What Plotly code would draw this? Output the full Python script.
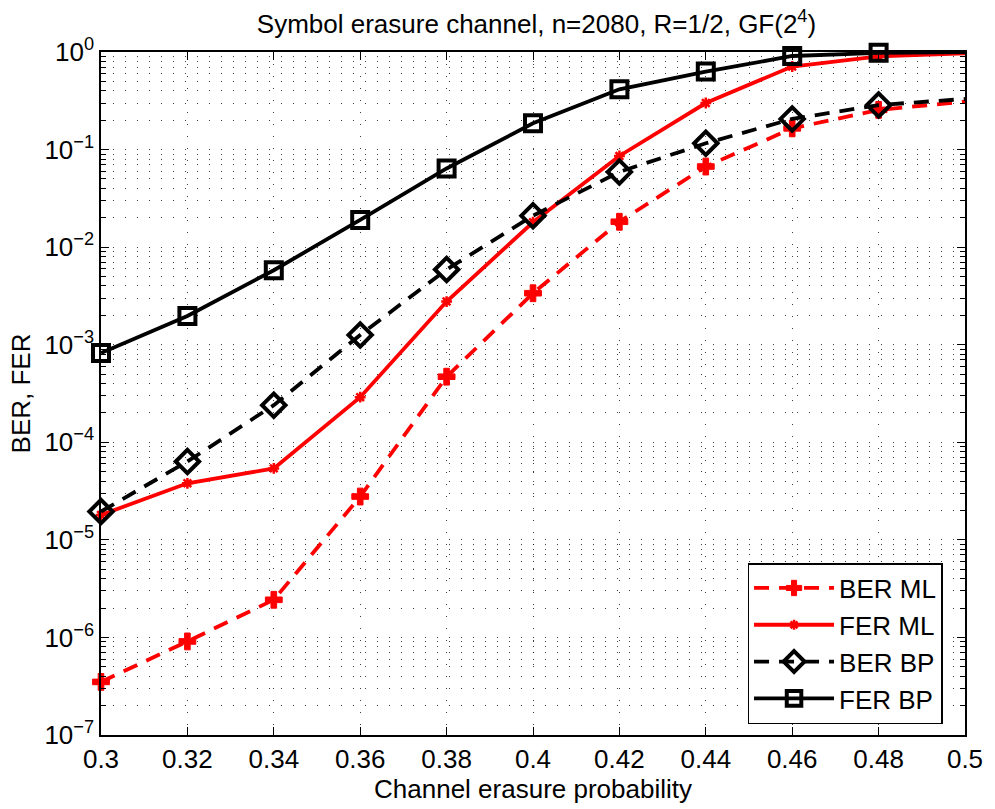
import plotly.graph_objects as go

x = [0.30, 0.32, 0.34, 0.36, 0.38, 0.40, 0.42, 0.44, 0.46, 0.48, 0.50]
ber_ml = [3.5e-7, 9.1e-7, 2.43e-6, 2.78e-5, 4.7e-4, 3.37e-3, 0.0182, 0.067, 0.165, 0.255, 0.31]
fer_ml = [1.8e-5, 3.8e-5, 5.4e-5, 2.9e-4, 2.77e-3, 0.018, 0.086, 0.30, 0.71, 0.90, 0.97]
ber_bp = [1.95e-5, 6.35e-5, 2.4e-4, 1.26e-3, 5.9e-3, 0.021, 0.059, 0.116, 0.206, 0.286, 0.33]
fer_bp = [8.2e-4, 1.97e-3, 5.8e-3, 0.019, 0.064, 0.186, 0.415, 0.63, 0.91, 0.98, 1.0]

x_ticks = [0.30, 0.32, 0.34, 0.36, 0.38, 0.40, 0.42, 0.44, 0.46, 0.48, 0.50]
x_ticktext = ["0.3", "0.32", "0.34", "0.36", "0.38", "0.4", "0.42", "0.44", "0.46", "0.48", "0.5"]
y_exps = [0, -1, -2, -3, -4, -5, -6, -7]

FONT = "Liberation Sans, Arial, Helvetica, sans-serif"
FS = 26
RED = "rgb(255,0,0)"
BLK = "rgb(0,0,0)"
LW = 3.8

def sizes(s):
    # no marker on the final point (edge of the axis)
    return [s] * (len(x) - 1) + [0]

fig = go.Figure()
fig.add_trace(go.Scatter(
    x=x, y=ber_ml, name="BER ML", mode="lines+markers",
    line=dict(color=RED, width=LW, dash="15px,10px"),
    marker=dict(symbol="cross", size=sizes(14), color=RED, opacity=1,
                line=dict(color=RED, width=1)),
    cliponaxis=False))
fig.add_trace(go.Scatter(
    x=x, y=fer_ml, name="FER ML", mode="lines+markers",
    line=dict(color=RED, width=LW),
    marker=dict(symbol="asterisk-open", size=sizes(9), color=RED, opacity=1,
                line=dict(color=RED, width=2.5)),
    cliponaxis=False))
fig.add_trace(go.Scatter(
    x=x, y=ber_bp, name="BER BP", mode="lines+markers",
    line=dict(color=BLK, width=LW, dash="15px,10px"),
    marker=dict(symbol="diamond-open", size=sizes(18), color=BLK, opacity=1,
                line=dict(color=BLK, width=4)),
    cliponaxis=False))
fig.add_trace(go.Scatter(
    x=x, y=fer_bp, name="FER BP", mode="lines+markers",
    line=dict(color=BLK, width=LW),
    marker=dict(symbol="square-open", size=sizes(16), color=BLK, opacity=1,
                line=dict(color=BLK, width=4)),
    cliponaxis=False))

minor_vals = [m * 10.0 ** k for k in range(-7, 0) for m in range(2, 10)]

fig.update_layout(
    width=995, height=809,
    margin=dict(l=101, r=23, t=52, b=74),
    paper_bgcolor="white", plot_bgcolor="white",
    font=dict(family=FONT, size=FS, color="black"),
    title=dict(text="Symbol erasure channel, n=2080, R=1/2, GF(2<sup>4</sup>)",
               x=(101 + 972) / 2 / 995, xanchor="center", xref="container",
               y=1 - 24 / 809, yanchor="middle", yref="container",
               font=dict(family=FONT, size=FS)),
    showlegend=True,
    legend=dict(x=0.974, y=0.016, xanchor="right", yanchor="bottom",
                bgcolor="white", bordercolor="black", borderwidth=1.5,
                font=dict(family=FONT, size=FS), itemwidth=80,
                tracegroupgap=0),
)

fig.update_xaxes(
    range=[0.3, 0.5], tickvals=x_ticks, ticktext=x_ticktext,
    showline=True, linecolor="black", linewidth=1.5, mirror="allticks",
    ticks="inside", ticklen=8, tickcolor="black", tickwidth=1,
    showgrid=True, gridcolor="rgba(0,0,0,0.75)", gridwidth=1, griddash="1px,11px",
    zeroline=False,
    title=dict(text="Channel erasure probability", font=dict(family=FONT, size=FS), standoff=4),
    tickfont=dict(family=FONT, size=FS),
)
fig.update_yaxes(
    type="log", range=[-7, 0],
    tickvals=[10.0 ** e for e in y_exps],
    ticktext=["10<sup>%s</sup>" % ("0" if e == 0 else "\u2212%d" % (-e)) for e in y_exps],
    showline=True, linecolor="black", linewidth=1.5, mirror="allticks",
    ticks="inside", ticklen=8, tickcolor="black", tickwidth=1,
    showgrid=True, gridcolor="rgba(0,0,0,0.75)", gridwidth=1, griddash="1px,11px",
    minor=dict(tickvals=minor_vals, ticks="inside", ticklen=5, tickcolor="black",
               showgrid=True, gridcolor="rgba(0,0,0,0.75)", gridwidth=1, griddash="1px,11px"),
    zeroline=False,
    title=dict(text="BER, FER", font=dict(family=FONT, size=FS), standoff=6),
    tickfont=dict(family=FONT, size=FS),
)

fig.write_html("out.html")
